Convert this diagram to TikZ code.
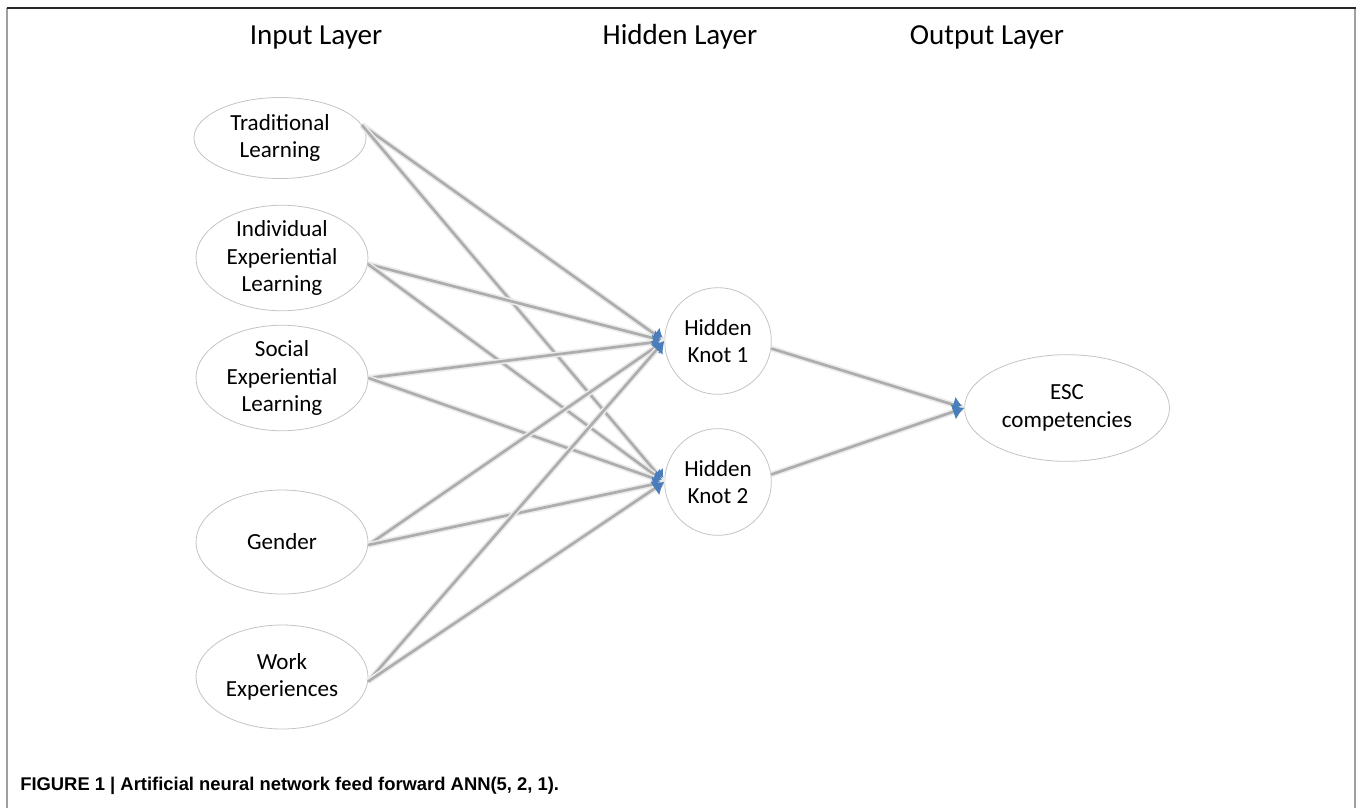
\documentclass[tikz,border=0pt]{standalone}
\usepackage{fontspec}
\setmainfont{Carlito}
\newfontfamily\capfont{Liberation Sans}
\usetikzlibrary{shapes.geometric,arrows.meta}
\definecolor{arrblue}{HTML}{4A7EBB}
\definecolor{edgegray}{HTML}{ADADAD}
\definecolor{ringgray}{HTML}{C4C4C4}
\begin{document}
\begin{tikzpicture}[x=0.75pt,y=-0.75pt,
  nodefont/.style={font=\fontsize{17.3}{20.5}\selectfont},
  inbox/.style={ellipse,draw=ringgray,fill=white,line width=0.6pt,minimum width=129pt,inner sep=0pt,align=center,nodefont},
  hid/.style={circle,draw=ringgray,fill=white,line width=0.6pt,minimum size=80pt,inner sep=0pt,align=center,nodefont},
  conn/.style={draw=edgegray,line width=2pt,preaction={draw=black!8,line width=4.4pt,arrows=-},-{Latex[length=8.5pt,width=12.5pt,color=arrblue]}},
  layertitle/.style={font=\fontsize{21.8}{26}\selectfont,anchor=base,inner sep=0pt}]
\useasboundingbox (0,0) rectangle (1357,808);
\draw[gray!75,line width=1.1pt] (7,808) -- (7,8);
\draw[gray!75,line width=1.1pt] (1355,8) -- (1355,808);
\draw[black!85,line width=1.1pt] (6.5,8) -- (1355.5,8);

\node[layertitle] (tin) at (316,44) {Input Layer};
\node[layertitle] (thid) at (680,44) {Hidden Layer};
\node[layertitle] (tout) at (987,44) {Output Layer};

\node[inbox,minimum height=60.75pt] (trad) at (280,138) {Traditional\\Learning};
\node[inbox,minimum height=71pt] (indiv) at (282,258) {Individual\\Experiential\\Learning};
\node[inbox,minimum height=71pt] (soc) at (282,378) {Social\\Experiential\\Learning};
\node[inbox,minimum height=78pt] (gend) at (282,542) {Gender};
\node[inbox,minimum height=78pt] (work) at (282,677) {Work\\Experiences};

\node[hid] (h1) at (718,341) {Hidden\\Knot 1};
\node[hid] (h2) at (718,482) {Hidden\\Knot 2};

\node[ellipse,draw=ringgray,fill=white,line width=0.6pt,minimum width=153.75pt,minimum height=80pt,inner sep=0pt,align=center,nodefont] (esc) at (1067,408) {ESC\\competencies};

\foreach \s/\a in {trad/9,indiv/-4,soc/0,gend/-2,work/-3}{
  \draw[conn] (\s.\a) -- (h1.west);
  \draw[conn] (\s.\a) -- (h2.west);
}
\draw[conn] (h1.-8) -- (esc.west);
\draw[conn] (h2.8) -- (esc.west);

\node[anchor=base west,inner sep=0pt,font=\capfont\bfseries\fontsize{13.8}{16}\selectfont] (cap) at (20,790) {FIGURE 1 | Artificial neural network feed forward ANN(5, 2, 1).};
\end{tikzpicture}
\end{document}
